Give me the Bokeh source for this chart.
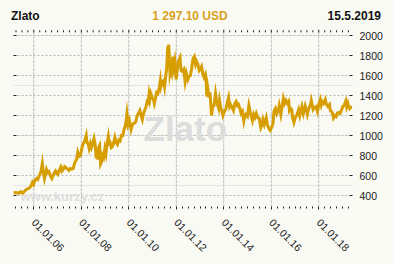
import math
import numpy as np
import pandas as pd
from bokeh.plotting import figure
from bokeh.layouts import column
from bokeh.models import FixedTicker, LinearAxis, Range1d, Grid, Div
from bokeh.core.properties import value
from bokeh.embed import file_html
from bokeh.resources import INLINE

# ---- data ----
dates = [
    "2005-02-25", "2005-03-15", "2005-04-15", "2005-05-15", "2005-06-15", "2005-07-15",
    "2005-08-15", "2005-09-15", "2005-10-15", "2005-11-15", "2005-12-10", "2005-12-28",
    "2006-01-15", "2006-02-10", "2006-03-01", "2006-03-20", "2006-04-10", "2006-04-25",
    "2006-05-12", "2006-05-25", "2006-06-14", "2006-06-30", "2006-07-15", "2006-08-01",
    "2006-08-20", "2006-09-10", "2006-10-05", "2006-10-20", "2006-11-10", "2006-12-01",
    "2006-12-20", "2007-01-05", "2007-01-25", "2007-02-20", "2007-03-10", "2007-04-01",
    "2007-04-20", "2007-05-10", "2007-06-01", "2007-06-25", "2007-07-15", "2007-08-01",
    "2007-08-15", "2007-08-30", "2007-09-15", "2007-10-01", "2007-10-20", "2007-11-08",
    "2007-11-25", "2007-12-15", "2008-01-01", "2008-01-15", "2008-02-01", "2008-02-20",
    "2008-03-17", "2008-03-28", "2008-04-15", "2008-05-01", "2008-05-20", "2008-06-05",
    "2008-06-25", "2008-07-15", "2008-08-01", "2008-08-15", "2008-09-01", "2008-09-12",
    "2008-09-25", "2008-10-10", "2008-10-24", "2008-11-10", "2008-11-25", "2008-12-10",
    "2008-12-30", "2009-01-15", "2009-02-01", "2009-02-20", "2009-03-05", "2009-03-20",
    "2009-04-06", "2009-04-25", "2009-05-15", "2009-06-01", "2009-06-20", "2009-07-10",
    "2009-07-30", "2009-08-20", "2009-09-10", "2009-10-01", "2009-10-20", "2009-11-10",
    "2009-11-25", "2009-12-03", "2009-12-20", "2010-01-10", "2010-02-05", "2010-02-25",
    "2010-03-15", "2010-04-01", "2010-04-20", "2010-05-10", "2010-06-01", "2010-06-20",
    "2010-07-10", "2010-07-28", "2010-08-15", "2010-09-01", "2010-09-20", "2010-10-10",
    "2010-10-25", "2010-11-08", "2010-11-20", "2010-12-05", "2010-12-25", "2011-01-15",
    "2011-01-28", "2011-02-15", "2011-03-05", "2011-03-25", "2011-04-15", "2011-05-01",
    "2011-05-10", "2011-05-30", "2011-06-20", "2011-07-05", "2011-07-25", "2011-08-05",
    "2011-08-22", "2011-08-25", "2011-09-06", "2011-09-15", "2011-09-26", "2011-10-05",
    "2011-10-20", "2011-11-08", "2011-11-25", "2011-12-08", "2011-12-29", "2012-01-15",
    "2012-02-01", "2012-02-28", "2012-03-15", "2012-04-05", "2012-04-25", "2012-05-16",
    "2012-06-05", "2012-06-28", "2012-07-15", "2012-08-05", "2012-08-25", "2012-09-15",
    "2012-10-05", "2012-10-25", "2012-11-10", "2012-11-30", "2012-12-20", "2013-01-10",
    "2013-01-25", "2013-02-15", "2013-03-05", "2013-03-25", "2013-04-05", "2013-04-15",
    "2013-04-30", "2013-05-15", "2013-06-05", "2013-06-27", "2013-07-15", "2013-08-05",
    "2013-08-27", "2013-09-10", "2013-09-30", "2013-10-15", "2013-10-28", "2013-11-15",
    "2013-12-05", "2013-12-20", "2014-01-10", "2014-01-30", "2014-02-20", "2014-03-15",
    "2014-03-31", "2014-04-15", "2014-05-01", "2014-05-30", "2014-06-20", "2014-07-10",
    "2014-07-30", "2014-08-15", "2014-09-05", "2014-09-25", "2014-10-15", "2014-11-05",
    "2014-11-20", "2014-12-05", "2014-12-30", "2015-01-22", "2015-02-10", "2015-03-17",
    "2015-04-05", "2015-04-25", "2015-05-15", "2015-06-05", "2015-06-30", "2015-07-24",
    "2015-08-10", "2015-08-25", "2015-09-15", "2015-10-15", "2015-11-05", "2015-12-02",
    "2015-12-17", "2016-01-05", "2016-01-28", "2016-02-11", "2016-03-05", "2016-03-25",
    "2016-04-20", "2016-05-02", "2016-05-27", "2016-06-24", "2016-07-06", "2016-07-25",
    "2016-08-15", "2016-09-05", "2016-09-25", "2016-10-07", "2016-10-25", "2016-11-10",
    "2016-11-25", "2016-12-15", "2017-01-05", "2017-01-25", "2017-02-25", "2017-03-15",
    "2017-04-17", "2017-05-09", "2017-06-06", "2017-06-30", "2017-07-10", "2017-08-01",
    "2017-08-29", "2017-09-08", "2017-10-06", "2017-10-25", "2017-11-20", "2017-12-12",
    "2018-01-05", "2018-01-25", "2018-02-08", "2018-02-20", "2018-03-15", "2018-04-11",
    "2018-04-30", "2018-05-20", "2018-06-14", "2018-06-28", "2018-07-15", "2018-08-01",
    "2018-08-16", "2018-09-05", "2018-09-25", "2018-10-15", "2018-11-05", "2018-11-25",
    "2018-12-15", "2019-01-05", "2019-01-25", "2019-02-20", "2019-03-07", "2019-03-25",
    "2019-04-05", "2019-04-23", "2019-05-05", "2019-05-15",
]
prices = [
    423, 430, 428, 422, 438, 425,
    445, 465, 470, 490, 530, 510,
    550, 570, 560, 590, 620, 650,
    720, 650, 570, 615, 660, 630,
    640, 600, 570, 595, 625, 645,
    620, 610, 650, 685, 645, 665,
    690, 680, 665, 650, 670, 665,
    665, 670, 710, 740, 760, 830,
    790, 800, 840, 890, 920, 940,
    1000, 930, 920, 870, 920, 880,
    920, 970, 910, 810, 830, 760,
    880, 900, 715, 740, 800, 780,
    870, 820, 920, 990, 920, 930,
    880, 890, 930, 980, 930, 910,
    955, 945, 1000, 1000, 1060, 1100,
    1170, 1215, 1110, 1150, 1060, 1110,
    1120, 1125, 1140, 1200, 1225, 1250,
    1200, 1160, 1220, 1250, 1280, 1340,
    1330, 1410, 1360, 1420, 1380, 1360,
    1320, 1370, 1430, 1420, 1480, 1550,
    1490, 1535, 1550, 1490, 1610, 1660,
    1890, 1740, 1910, 1800, 1620, 1650,
    1620, 1790, 1690, 1740, 1560, 1650,
    1740, 1780, 1650, 1640, 1660, 1540,
    1620, 1560, 1590, 1600, 1670, 1770,
    1790, 1710, 1740, 1710, 1650, 1670,
    1690, 1610, 1580, 1610, 1560, 1390,
    1470, 1400, 1410, 1200, 1290, 1300,
    1420, 1360, 1300, 1270, 1350, 1280,
    1240, 1200, 1240, 1260, 1320, 1380,
    1290, 1310, 1290, 1250, 1320, 1340,
    1300, 1310, 1270, 1220, 1240, 1145,
    1190, 1210, 1190, 1300, 1240, 1150,
    1210, 1180, 1220, 1180, 1170, 1080,
    1110, 1160, 1110, 1180, 1100, 1060,
    1050, 1080, 1120, 1240, 1270, 1220,
    1260, 1300, 1210, 1320, 1370, 1320,
    1350, 1320, 1340, 1250, 1270, 1260,
    1180, 1130, 1180, 1200, 1260, 1200,
    1290, 1220, 1295, 1240, 1210, 1270,
    1315, 1350, 1260, 1280, 1290, 1240,
    1320, 1360, 1310, 1340, 1320, 1360,
    1310, 1290, 1310, 1250, 1240, 1220,
    1175, 1200, 1190, 1225, 1230, 1220,
    1250, 1290, 1300, 1345, 1285, 1320,
    1290, 1270, 1280, 1297,
]
tick_years = [2006, 2008, 2010, 2012, 2014, 2016, 2018]
tick_labels = ["01.01.06", "01.01.08", "01.01.10", "01.01.12", "01.01.14", "01.01.16", "01.01.18"]
y_ticks = [400, 600, 800, 1000, 1200, 1400, 1600, 1800, 2000]
title_left = "Zlato"
title_mid = "1 297.10 USD"
title_right = "15.5.2019"
watermark = "Zlato"
site = "www.kurzy.cz"

# ---- styling ----
BG = "#fafaf5"
GOLD = "#d69e00"
FONT = "Liberation Sans"
Y0, Y1 = 290, 2060          # value range of the plot frame
HEADER_H = 24

d = pd.to_datetime(dates)
days_in_year = np.where(d.is_leap_year, 366.0, 365.0)
xs = np.asarray(d.year + (d.dayofyear - 1) / days_in_year, dtype=float)

p = figure(width=393, height=264 - HEADER_H, output_backend="svg", toolbar_location=None,
           x_range=Range1d(2005.145, 2019.42), y_range=Range1d(Y0, Y1),
           x_axis_location=None, y_axis_location=None,
           min_border_left=13, min_border_right=41, min_border_top=5, min_border_bottom=58,
           background_fill_color=BG, border_fill_color=BG, outline_line_color=None)

minor = [2005 + q * 0.25 for q in range(1, 58) if 2005.15 < 2005 + q * 0.25 < 2019.3]
minor = [m for m in minor if m not in tick_years]
xt = FixedTicker(ticks=tick_years, minor_ticks=minor)
yt = FixedTicker(ticks=y_ticks, minor_ticks=[])

# horizontal grid through the library grid; vertical grid only between top and bottom tick rows
p.add_layout(Grid(dimension=1, ticker=yt, grid_line_color="#b8b8b8", grid_line_dash="2 2"))
p.segment(x0=tick_years, y0=[Y0] * len(tick_years), x1=tick_years, y1=[2030] * len(tick_years),
          line_color="#b8b8b8", line_dash="2 2", line_width=1)

# top tick row (inside the frame top)
p.segment(x0=tick_years, y0=[2030] * len(tick_years), x1=tick_years, y1=[Y1] * len(tick_years),
          line_color="#222222", line_width=1)
p.segment(x0=minor, y0=[2032] * len(minor), x1=minor, y1=[2052] * len(minor),
          line_color="#222222", line_width=1)

def style_axis(ax):
    ax.axis_line_color = None
    ax.major_tick_line_color = "#222222"
    ax.minor_tick_line_color = "#222222"
    ax.major_label_text_font = FONT
    ax.major_label_text_font_size = "10.5px"
    ax.major_label_text_color = "#222222"

bottom = LinearAxis(ticker=xt, major_label_overrides={y: l for y, l in zip(tick_years, tick_labels)})
style_axis(bottom)
bottom.major_tick_in = 0
bottom.major_tick_out = 3
bottom.minor_tick_in = 0
bottom.minor_tick_out = 2
bottom.major_label_orientation = -math.pi / 4
bottom.major_label_standoff = 11
p.add_layout(bottom, "below")

right = LinearAxis(ticker=yt)
style_axis(right)
right.major_tick_in = 3
right.major_tick_out = 0
right.major_label_standoff = 7
p.add_layout(right, "right")

left = LinearAxis(ticker=yt, major_label_overrides={v: "" for v in y_ticks})
style_axis(left)
left.major_tick_in = 3
left.major_tick_out = 0
left.major_label_standoff = 0
p.add_layout(left, "left")

# watermarks (behind the line)
p.text(x=[2010.62], y=[1070], text=[watermark], text_font=value(FONT), text_font_style="bold",
       text_font_size="35px", text_color="#dcdcdc", text_baseline="alphabetic")
p.text(x=[2005.44], y=[390], text=[site], text_font=value(FONT), text_font_style="bold",
       text_font_size="13px", text_color="#dedede", text_baseline="alphabetic")

p.line(xs, prices, line_color=GOLD, line_width=3, line_join="miter")

span = "position:absolute;top:10px;line-height:12px;white-space:nowrap;"
header_html = (
    f'<div style="position:relative;width:393px;height:{HEADER_H}px;background:{BG};'
    f"font-family:'{FONT}';font-weight:bold;font-size:12px;\">"
    f'<span style="{span}left:11px;color:#111111">{title_left}</span>'
    f'<span style="{span}left:190px;transform:translateX(-50%);color:#d9a21a">{title_mid}</span>'
    f'<span style="{span}right:12px;color:#111111">{title_right}</span>'
    "</div>"
)
header = Div(text=header_html, width=393, height=HEADER_H, margin=0,
             styles={"background-color": BG})

layout = column(header, p, spacing=0, margin=0, styles={"background-color": BG})
open("out.html", "w").write(file_html(layout, INLINE))
